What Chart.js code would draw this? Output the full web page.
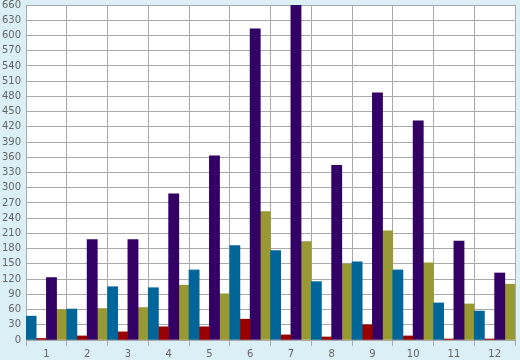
<!DOCTYPE html>
<html>
<head>
<meta charset="utf-8">
<script src="https://cdn.jsdelivr.net/npm/chart.js@4"></script>
<style>
    html, body { margin: 0; padding: 0; background: #dbeff6; }
    #chart { display: block; }
</style>
</head>
<body>
<canvas id="chart" width="520" height="360"></canvas>
<script>
// Categories and series values
const labels = ['1', '2', '3', '4', '5', '6', '7', '8', '9', '10', '11', '12'];
const blueValues = [47, 61, 105, 103, 138, 186, 176, 115, 154, 138, 73, 57];
const redValues = [3, 8, 16, 26, 26, 41, 10, 6, 30, 8, 2, 2];
const purpleValues = [123, 198, 198, 288, 363, 613, 660, 344, 487, 432, 195, 132];
const oliveValues = [60, 62, 64, 108, 91, 253, 194, 150, 215, 152, 71, 110];

const yMin = 0;
const yMax = 660;
const yStep = 30;

// Light blue page background, white plot area
const backgroundPlugin = {
    id: 'backgroundPlugin',
    beforeDraw(chart) {
        const ctx = chart.ctx;
        const area = chart.chartArea;
        ctx.save();
        ctx.fillStyle = '#dbeff6';
        ctx.fillRect(0, 0, chart.width, chart.height);
        ctx.fillStyle = '#ffffff';
        ctx.fillRect(area.left, area.top, area.right - area.left, area.bottom - area.top);
        ctx.restore();
    }
};

function makeDataset(label, values, color) {
    return {
        label: label,
        data: values,
        backgroundColor: color,
        borderWidth: 0,
        categoryPercentage: 1,
        barPercentage: 1
    };
}

function drawChart() {
    const ctx = document.getElementById('chart').getContext('2d');
    const tickFont = { family: 'DejaVu Sans', size: 10 };

    new Chart(ctx, {
        type: 'bar',
        data: {
            labels: labels,
            datasets: [
                makeDataset('A', blueValues, '#006699'),
                makeDataset('B', redValues, '#990000'),
                makeDataset('C', purpleValues, '#330066'),
                makeDataset('D', oliveValues, '#999933')
            ]
        },
        options: {
            responsive: false,
            animation: false,
            layout: { padding: { left: 0, top: 5, right: 5, bottom: 0 } },
            plugins: {
                legend: { display: false },
                tooltip: { enabled: false }
            },
            scales: {
                x: {
                    grid: { color: '#aaaaaa', lineWidth: 1, tickLength: 6, offset: true },
                    border: { color: '#aaaaaa' },
                    ticks: { color: '#666666', font: tickFont, padding: 2, maxRotation: 0, autoSkip: false },
                    afterFit: function(scale) {
                        scale.height = 20;
                        scale.paddingLeft = 0;
                        scale.paddingRight = 0;
                    }
                },
                y: {
                    min: yMin,
                    max: yMax,
                    grid: { color: '#aaaaaa', lineWidth: 1, drawTicks: false },
                    border: { color: '#aaaaaa' },
                    ticks: { stepSize: yStep, color: '#666666', font: tickFont, padding: 5, autoSkip: false },
                    afterFit: function(scale) {
                        scale.width = 26;
                        scale.paddingTop = 0;
                        scale.paddingBottom = 0;
                    }
                }
            }
        },
        plugins: [backgroundPlugin]
    });
}

document.addEventListener('DOMContentLoaded', drawChart);
</script>
</body>
</html>
